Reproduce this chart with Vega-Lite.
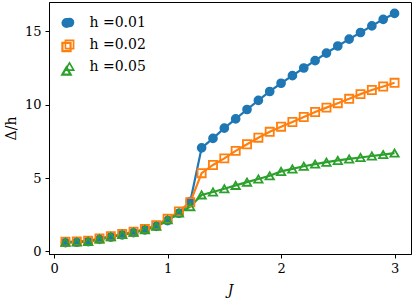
{
  "$schema": "https://vega.github.io/schema/vega-lite/v6.json",
  "width": 362,
  "height": 252,
  "autosize": "none",
  "padding": {"left": 49, "top": 2, "right": 4, "bottom": 50},
  "background": "white",
  "config": {
    "font": "DejaVu Serif",
    "view": {"stroke": "black", "strokeWidth": 1},
    "axis": {
      "grid": false,
      "domainColor": "black",
      "domainWidth": 1,
      "tickColor": "black",
      "tickWidth": 1,
      "tickSize": 4,
      "labelFont": "DejaVu Serif",
      "labelFontSize": 13,
      "labelColor": "black",
      "labelPadding": 4,
      "titleFont": "DejaVu Serif",
      "titleFontSize": 14,
      "titleFontWeight": "normal",
      "titleColor": "black"
    },
    "legend": {"labelFont": "DejaVu Serif", "padding": 0}
  },
  "data": {
    "values": [
      {"J": 0.1, "h": "0.01", "v": 0.60}, {"J": 0.2, "h": "0.01", "v": 0.62}, {"J": 0.3, "h": "0.01", "v": 0.66},
      {"J": 0.4, "h": "0.01", "v": 0.82}, {"J": 0.5, "h": "0.01", "v": 0.97}, {"J": 0.6, "h": "0.01", "v": 1.12},
      {"J": 0.7, "h": "0.01", "v": 1.28}, {"J": 0.8, "h": "0.01", "v": 1.46}, {"J": 0.9, "h": "0.01", "v": 1.70},
      {"J": 1.0, "h": "0.01", "v": 2.10}, {"J": 1.1, "h": "0.01", "v": 2.60}, {"J": 1.2, "h": "0.01", "v": 3.40},
      {"J": 1.3, "h": "0.01", "v": 7.06}, {"J": 1.4, "h": "0.01", "v": 7.70}, {"J": 1.5, "h": "0.01", "v": 8.40},
      {"J": 1.6, "h": "0.01", "v": 9.03}, {"J": 1.7, "h": "0.01", "v": 9.67}, {"J": 1.8, "h": "0.01", "v": 10.29},
      {"J": 1.9, "h": "0.01", "v": 10.90}, {"J": 2.0, "h": "0.01", "v": 11.46}, {"J": 2.1, "h": "0.01", "v": 11.98},
      {"J": 2.2, "h": "0.01", "v": 12.50}, {"J": 2.3, "h": "0.01", "v": 13.00}, {"J": 2.4, "h": "0.01", "v": 13.52},
      {"J": 2.5, "h": "0.01", "v": 14.00}, {"J": 2.6, "h": "0.01", "v": 14.47}, {"J": 2.7, "h": "0.01", "v": 14.92},
      {"J": 2.8, "h": "0.01", "v": 15.37}, {"J": 2.9, "h": "0.01", "v": 15.82}, {"J": 3.0, "h": "0.01", "v": 16.22},

      {"J": 0.1, "h": "0.02", "v": 0.66}, {"J": 0.2, "h": "0.02", "v": 0.68}, {"J": 0.3, "h": "0.02", "v": 0.72},
      {"J": 0.4, "h": "0.02", "v": 0.88}, {"J": 0.5, "h": "0.02", "v": 1.03}, {"J": 0.6, "h": "0.02", "v": 1.18},
      {"J": 0.7, "h": "0.02", "v": 1.34}, {"J": 0.8, "h": "0.02", "v": 1.52}, {"J": 0.9, "h": "0.02", "v": 1.78},
      {"J": 1.0, "h": "0.02", "v": 2.22}, {"J": 1.1, "h": "0.02", "v": 2.72}, {"J": 1.2, "h": "0.02", "v": 3.35},
      {"J": 1.3, "h": "0.02", "v": 5.33}, {"J": 1.4, "h": "0.02", "v": 5.89}, {"J": 1.5, "h": "0.02", "v": 6.34},
      {"J": 1.6, "h": "0.02", "v": 6.85}, {"J": 1.7, "h": "0.02", "v": 7.30}, {"J": 1.8, "h": "0.02", "v": 7.75},
      {"J": 1.9, "h": "0.02", "v": 8.15}, {"J": 2.0, "h": "0.02", "v": 8.50}, {"J": 2.1, "h": "0.02", "v": 8.82},
      {"J": 2.2, "h": "0.02", "v": 9.16}, {"J": 2.3, "h": "0.02", "v": 9.50}, {"J": 2.4, "h": "0.02", "v": 9.80},
      {"J": 2.5, "h": "0.02", "v": 10.10}, {"J": 2.6, "h": "0.02", "v": 10.40}, {"J": 2.7, "h": "0.02", "v": 10.72},
      {"J": 2.8, "h": "0.02", "v": 11.00}, {"J": 2.9, "h": "0.02", "v": 11.24}, {"J": 3.0, "h": "0.02", "v": 11.49},

      {"J": 0.1, "h": "0.05", "v": 0.62}, {"J": 0.2, "h": "0.05", "v": 0.64}, {"J": 0.3, "h": "0.05", "v": 0.68},
      {"J": 0.4, "h": "0.05", "v": 0.85}, {"J": 0.5, "h": "0.05", "v": 1.00}, {"J": 0.6, "h": "0.05", "v": 1.15},
      {"J": 0.7, "h": "0.05", "v": 1.30}, {"J": 0.8, "h": "0.05", "v": 1.48}, {"J": 0.9, "h": "0.05", "v": 1.72},
      {"J": 1.0, "h": "0.05", "v": 2.15}, {"J": 1.1, "h": "0.05", "v": 2.62}, {"J": 1.2, "h": "0.05", "v": 3.05},
      {"J": 1.3, "h": "0.05", "v": 3.85}, {"J": 1.4, "h": "0.05", "v": 4.05}, {"J": 1.5, "h": "0.05", "v": 4.27},
      {"J": 1.6, "h": "0.05", "v": 4.50}, {"J": 1.7, "h": "0.05", "v": 4.72}, {"J": 1.8, "h": "0.05", "v": 4.93},
      {"J": 1.9, "h": "0.05", "v": 5.15}, {"J": 2.0, "h": "0.05", "v": 5.45}, {"J": 2.1, "h": "0.05", "v": 5.62},
      {"J": 2.2, "h": "0.05", "v": 5.80}, {"J": 2.3, "h": "0.05", "v": 5.95}, {"J": 2.4, "h": "0.05", "v": 6.08},
      {"J": 2.5, "h": "0.05", "v": 6.20}, {"J": 2.6, "h": "0.05", "v": 6.30}, {"J": 2.7, "h": "0.05", "v": 6.40},
      {"J": 2.8, "h": "0.05", "v": 6.50}, {"J": 2.9, "h": "0.05", "v": 6.60}, {"J": 3.0, "h": "0.05", "v": 6.70}
    ]
  },
  "encoding": {
    "x": {
      "field": "J", "type": "quantitative",
      "scale": {"domain": [-0.045, 3.145], "nice": false, "zero": false},
      "axis": {"values": [0, 1, 2, 3], "title": "J", "titleFontStyle": "italic", "titlePadding": 8}
    },
    "y": {
      "field": "v", "type": "quantitative",
      "scale": {"domain": [-0.18, 17.0], "nice": false, "zero": false},
      "axis": {"values": [0, 5, 10, 15], "title": "Δ/h", "titlePadding": 6}
    }
  },
  "layer": [
    {
      "mark": {"type": "line", "strokeWidth": 2.2},
      "encoding": {
        "stroke": {
          "field": "h", "type": "nominal",
          "scale": {"domain": ["0.01", "0.02", "0.05"], "range": ["#1f77b4", "#ff7f0e", "#2ca02c"]},
          "legend": {
            "title": null,
            "orient": "top-left",
            "offset": 13.5,
            "symbolType": "stroke",
            "symbolSize": 196,
            "symbolStrokeWidth": 2.2,
            "symbolOffset": -3.5,
            "labelExpr": "''",
            "labelFontSize": 14,
            "labelOffset": 13,
            "rowPadding": 6
          }
        }
      }
    },
    {
      "mark": {"type": "point", "filled": false, "strokeWidth": 1.8, "opacity": 1},
      "encoding": {
        "color": {
          "field": "h", "type": "nominal",
          "scale": {"domain": ["0.01", "0.02", "0.05"], "range": ["#1f77b4", "#ff7f0e", "#2ca02c"]},
          "legend": {
            "title": null,
            "orient": "none",
            "legendX": 13.5,
            "legendY": 13.5,
            "labelExpr": "'h =' + datum.label",
            "labelFont": "DejaVu Serif",
            "labelFontSize": 14,
            "labelColor": "black",
            "symbolSize": 49,
            "symbolStrokeWidth": 1.7,
            "rowPadding": 6,
            "labelOffset": 13
          }
        },
        "shape": {
          "field": "h", "type": "nominal", "legend": null,
          "scale": {"domain": ["0.01", "0.02", "0.05"], "range": ["circle", "square", "triangle-up"]}
        },
        "size": {
          "field": "h", "type": "nominal", "legend": null,
          "scale": {"domain": ["0.01", "0.02", "0.05"], "range": [62, 70, 100]}
        },
        "fill": {
          "field": "h", "type": "nominal", "legend": null,
          "scale": {"domain": ["0.01", "0.02", "0.05"], "range": ["#1f77b4", "transparent", "transparent"]}
        }
      }
    }
  ]
}
